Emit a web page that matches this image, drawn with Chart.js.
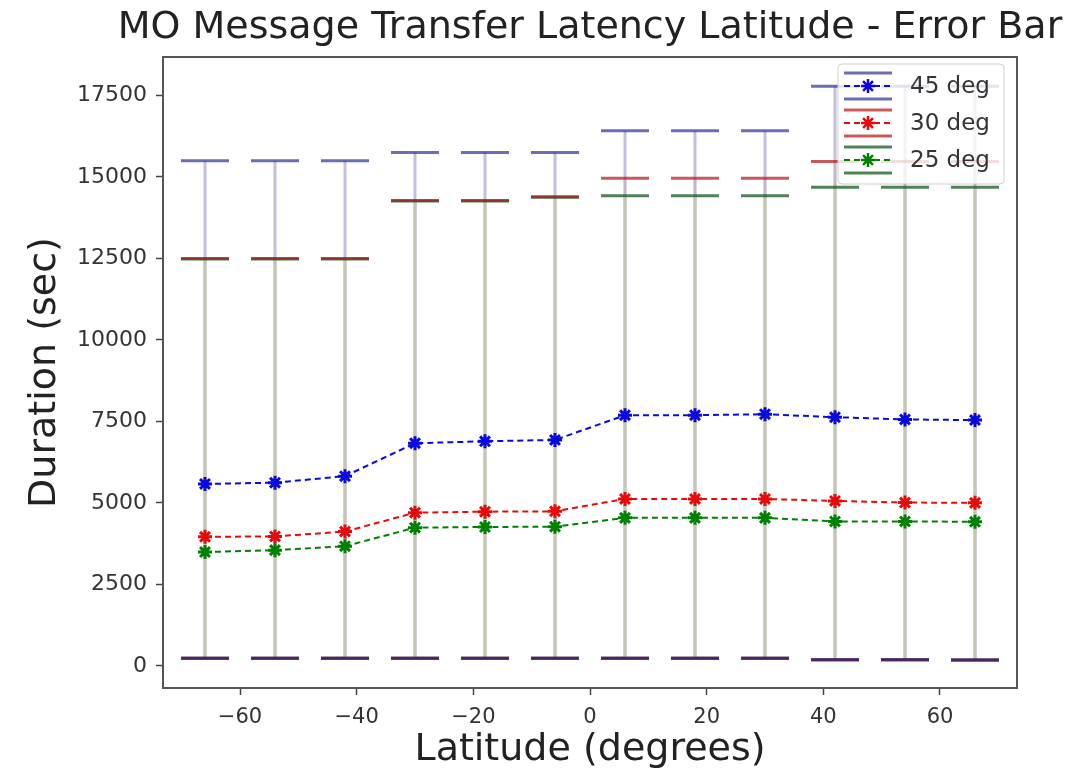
<!DOCTYPE html>
<html>
<head>
<meta charset="utf-8">
<title>MO Message Transfer Latency Latitude - Error Bar</title>
<script src="https://cdn.jsdelivr.net/npm/chart.js"></script>
<style>
  html, body { margin: 0; padding: 0; background: #fff; }
  canvas { display: block; }
</style>
</head>
<body>
<canvas id="latencyChart" width="1091" height="774"></canvas>
<script>
// latitudes (degrees) of each measurement
const latitudes = [-66, -54, -42, -30, -18, -6, 6, 18, 30, 42, 54, 66];

// mean duration (sec)
const mean45 = [5580, 5620, 5820, 6830, 6890, 6930, 7690, 7690, 7720, 7630, 7560, 7540];
const mean30 = [3960, 3970, 4120, 4700, 4730, 4740, 5120, 5120, 5120, 5060, 5010, 5000];
const mean25 = [3490, 3550, 3670, 4240, 4260, 4270, 4540, 4540, 4540, 4430, 4430, 4420];

// lower / upper ends of the error bars
const low45 = [230, 230, 230, 230, 230, 230, 230, 230, 230, 190, 190, 180];
const low30 = [230, 230, 230, 230, 230, 230, 230, 230, 230, 190, 190, 180];
const low25 = [230, 230, 230, 230, 230, 230, 230, 230, 230, 190, 190, 180];
const high45 = [15500, 15500, 15500, 15750, 15750, 15750, 16420, 16420, 16420, 17780, 17780, 17780];
const high30 = [12500, 12500, 12500, 14280, 14280, 14390, 14960, 14960, 14960, 15470, 15470, 15470];
const high25 = [12480, 12480, 12480, 14260, 14260, 14380, 14420, 14420, 14420, 14680, 14680, 14680];

const seriesNames = ["45 deg", "30 deg", "25 deg"];
const xTicks = [-60, -40, -20, 0, 20, 40, 60];
const yTicks = [0, 2500, 5000, 7500, 10000, 12500, 15000, 17500];

const FONT = "'DejaVu Sans', 'Liberation Sans', sans-serif";
const colors = ["rgb(10,10,220)", "rgb(230,10,10)", "rgb(0,128,0)"];
const barColors = ["rgba(0,0,128,0.25)", "rgba(220,150,150,0.3)", "rgba(195,205,175,0.85)"];
const capColors = ["rgba(30,30,140,0.65)", "rgba(180,20,20,0.7)", "rgba(20,90,30,0.75)"];

const means = [mean45, mean30, mean25];
const lows = [low45, low30, low25];
const highs = [high45, high30, high25];

function toPoints(arr) {
  return latitudes.map((lat, i) => ({ x: lat, y: arr[i] }));
}

// small asterisk marker, like the one in the picture
function drawStar(ctx, x, y, r, color) {
  ctx.save();
  ctx.strokeStyle = color;
  ctx.lineWidth = 2.5;
  ctx.beginPath();
  for (let k = 0; k < 4; k++) {
    const a = k * Math.PI / 4;
    ctx.moveTo(x - r * Math.cos(a), y - r * Math.sin(a));
    ctx.lineTo(x + r * Math.cos(a), y + r * Math.sin(a));
  }
  ctx.stroke();
  ctx.restore();
}

// error bars drawn under the lines
const errorBars = {
  id: "errorBars",
  beforeDatasetsDraw(chart) {
    const { ctx, chartArea, scales: { x, y } } = chart;
    ctx.save();
    ctx.beginPath();
    ctx.rect(chartArea.left, chartArea.top, chartArea.right - chartArea.left, chartArea.bottom - chartArea.top);
    ctx.clip();
    ctx.lineWidth = 3;
    for (let s = 0; s < 3; s++) {
      ctx.strokeStyle = barColors[s];
      for (let i = 0; i < latitudes.length; i++) {
        const px = x.getPixelForValue(latitudes[i]);
        ctx.beginPath();
        ctx.moveTo(px, y.getPixelForValue(lows[s][i]));
        ctx.lineTo(px, y.getPixelForValue(highs[s][i]));
        ctx.stroke();
      }
    }
    // caps: 25 deg first so the 45 deg caps end on top
    for (let s = 2; s >= 0; s--) {
      ctx.strokeStyle = capColors[s];
      for (let i = 0; i < latitudes.length; i++) {
        const px = x.getPixelForValue(latitudes[i]);
        const yLo = y.getPixelForValue(lows[s][i]);
        const yHi = y.getPixelForValue(highs[s][i]);
        ctx.beginPath();
        ctx.moveTo(px - 24, yLo);
        ctx.lineTo(px + 24, yLo);
        ctx.moveTo(px - 24, yHi);
        ctx.lineTo(px + 24, yHi);
        ctx.stroke();
      }
    }
    ctx.restore();
  }
};

// title, frame and legend
const decorations = {
  id: "decorations",
  afterDraw(chart) {
    const { ctx, chartArea } = chart;
    ctx.save();
    ctx.fillStyle = "#222";
    ctx.font = "38px " + FONT;
    ctx.textAlign = "center";
    ctx.textBaseline = "middle";
    ctx.fillText("MO Message Transfer Latency Latitude - Error Bar", (chartArea.left + chartArea.right) / 2, 28);

    ctx.strokeStyle = "#555";
    ctx.lineWidth = 2;
    ctx.strokeRect(chartArea.left, chartArea.top, chartArea.right - chartArea.left, chartArea.bottom - chartArea.top);

    // legend box
    const bx = 838, by = 64, bw = 166, bh = 120;
    ctx.fillStyle = "rgba(255,255,255,0.8)";
    ctx.strokeStyle = "rgba(200,200,200,0.9)";
    ctx.lineWidth = 1;
    ctx.beginPath();
    ctx.roundRect(bx, by, bw, bh, 4);
    ctx.fill();
    ctx.stroke();

    for (let s = 0; s < 3; s++) {
      const cy = 86 + s * 37;
      const cx = 868;
      ctx.strokeStyle = capColors[s];
      ctx.lineWidth = 3;
      ctx.beginPath();
      ctx.moveTo(cx - 24, cy - 13);
      ctx.lineTo(cx + 24, cy - 13);
      ctx.moveTo(cx - 24, cy + 13);
      ctx.lineTo(cx + 24, cy + 13);
      ctx.stroke();
      ctx.strokeStyle = colors[s];
      ctx.lineWidth = 2;
      ctx.setLineDash([6, 4]);
      ctx.beginPath();
      ctx.moveTo(cx - 24, cy);
      ctx.lineTo(cx + 24, cy);
      ctx.stroke();
      ctx.setLineDash([]);
      drawStar(ctx, cx, cy, 7, colors[s]);
      ctx.fillStyle = "#333";
      ctx.font = "23px " + FONT;
      ctx.textAlign = "left";
      ctx.textBaseline = "middle";
      ctx.fillText(seriesNames[s], 910, cy + 1);
    }
    ctx.restore();
  }
};

new Chart(document.getElementById("latencyChart"), {
  type: "line",
  data: {
    datasets: means.map((m, s) => ({
      label: seriesNames[s],
      data: toPoints(m),
      borderColor: colors[s],
      backgroundColor: colors[s],
      borderWidth: 2,
      borderDash: [6, 4],
      pointStyle: "star",
      pointRadius: 7,
      pointBorderWidth: 3,
      fill: false,
      tension: 0
    }))
  },
  options: {
    responsive: false,
    animation: false,
    layout: { padding: { left: 0, right: 74, top: 57, bottom: 0 } },
    plugins: {
      legend: { display: false },
      tooltip: { enabled: false }
    },
    scales: {
      x: {
        type: "linear",
        min: -73.2,
        max: 73.2,
        afterBuildTicks: (scale) => { scale.ticks = xTicks.map(v => ({ value: v })); },
        afterFit: (scale) => { scale.height = 86; },
        grid: { drawOnChartArea: false, drawTicks: true, tickLength: 7, tickColor: "#444", tickWidth: 1.5 },
        border: { display: false },
        ticks: {
          font: { family: FONT, size: 21 },
          color: "#333",
          padding: 10,
          maxRotation: 0,
          callback: (v) => (v < 0 ? "\u2212" + Math.abs(v) : String(v))
        },
        title: {
          display: true,
          text: "Latitude (degrees)",
          font: { family: FONT, size: 38 },
          color: "#222",
          padding: { top: 0, bottom: 1 }
        }
      },
      y: {
        min: -680,
        max: 18680,
        afterBuildTicks: (scale) => { scale.ticks = yTicks.map(v => ({ value: v })); },
        afterFit: (scale) => { scale.width = 163; },
        grid: { drawOnChartArea: false, drawTicks: true, tickLength: 7, tickColor: "#444", tickWidth: 1.5 },
        border: { display: false },
        ticks: {
          font: { family: FONT, size: 22 },
          color: "#333",
          padding: 9,
          callback: (v) => String(v)
        },
        title: {
          display: true,
          text: "Duration (sec)",
          font: { family: FONT, size: 38 },
          color: "#222",
          padding: { top: 22, bottom: 0 }
        }
      }
    }
  },
  plugins: [errorBars, decorations]
});
</script>
</body>
</html>
